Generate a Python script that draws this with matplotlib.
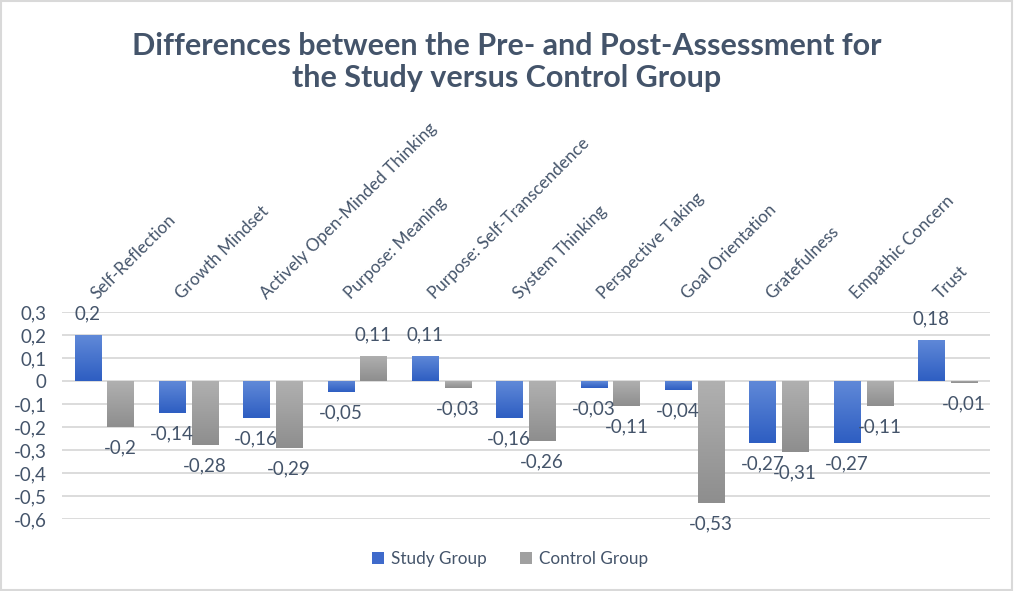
import numpy as np
import matplotlib
matplotlib.use("Agg")
import matplotlib.pyplot as plt
from matplotlib.colors import LinearSegmentedColormap
from matplotlib.patches import Rectangle

categories = ["Self-Reflection", "Growth Mindset", "Actively Open-Minded Thinking",
              "Purpose: Meaning", "Purpose: Self-Transcendence", "System Thinking",
              "Perspective Taking", "Goal Orientation", "Gratefulness",
              "Empathic Concern", "Trust"]
study = [0.2, -0.14, -0.16, -0.05, 0.11, -0.16, -0.03, -0.04, -0.27, -0.27, 0.18]
control = [-0.2, -0.28, -0.29, 0.11, -0.03, -0.26, -0.11, -0.53, -0.31, -0.11, -0.01]
yticks = [0.3, 0.2, 0.1, 0, -0.1, -0.2, -0.3, -0.4, -0.5, -0.6]

plt.rcParams['font.family'] = ['Lato', 'DejaVu Sans']
txt = '#44546A'
grid = '#D9D9D9'

blue_cm = LinearSegmentedColormap.from_list('b', ['#6089D8', '#2E5EC2'])
gray_cm = LinearSegmentedColormap.from_list('g', ['#B0B0B0', '#8E8E8E'])


def comma(v):
    return str(v).replace('.', ',')


def gradient_bars(ax, x, vals, width, cmap):
    bars = ax.bar(x, vals, width, color='none', edgecolor='none', zorder=3)
    grad = np.linspace(0, 1, 64).reshape(-1, 1)
    for b in bars:
        x0, y0 = b.get_x(), b.get_y()
        w, h = b.get_width(), b.get_height()
        lo, hi = min(y0, y0 + h), max(y0, y0 + h)
        im = ax.imshow(grad, cmap=cmap, aspect='auto', origin='upper',
                       extent=(x0, x0 + w, lo, hi), zorder=3)
        im.set_clip_path(b)
    return bars


fig = plt.figure(figsize=(10.14, 5.91), dpi=100)
ax = fig.add_axes([0.061, 0.122, 0.915, 0.350])

x = np.arange(len(categories))
w = 0.31
off = 0.195
gradient_bars(ax, x - off, study, w, blue_cm)
gradient_bars(ax, x + off, control, w, gray_cm)

for xs, vals in ((x - off, study), (x + off, control)):
    for xi, v in zip(xs, vals):
        ax.annotate(comma(v), (xi, v), xytext=(0, 15 if v > 0 else -15),
                    textcoords='offset points', ha='center', va='center',
                    fontsize=13.5, color=txt, zorder=5)

ax.set_xlim(-0.5, len(categories) - 0.5)
ax.set_ylim(-0.6, 0.3)
ax.set_yticks(yticks)
ax.set_yticklabels([comma(t) for t in yticks], fontsize=13.5, color=txt)
ax.set_xticks([])
ax.tick_params(axis='y', length=0, pad=11)
ax.grid(axis='y', color=grid, linewidth=1.3, zorder=0)
for s in ax.spines.values():
    s.set_visible(False)

for xi, name in zip(x, categories):
    t = ax.text(xi - 0.05, 0.345, name, rotation=45, rotation_mode='anchor',
                ha='left', va='bottom', fontsize=12.3, color=txt)
    t.set_clip_on(False)

fig.text(0.5, 0.895, "Differences between the Pre- and Post-Assessment for\nthe Study versus Control Group",
         ha='center', va='center', fontsize=22, fontweight='bold', color=txt,
         linespacing=1.2)

h1 = Rectangle((0, 0), 1, 1, facecolor='#3F6ACB')
h2 = Rectangle((0, 0), 1, 1, facecolor='#A0A0A0')
fig.legend([h1, h2], ['Study Group', 'Control Group'], loc='center',
           bbox_to_anchor=(0.503, 0.054), ncol=2, frameon=False, fontsize=12.3,
           labelcolor=txt, handlelength=0.7, handleheight=0.7,
           handletextpad=0.4, columnspacing=2.0)

fig.patches.append(Rectangle((0.001, 0.002), 0.997, 0.996, transform=fig.transFigure,
                             fill=False, edgecolor=grid, linewidth=1.5))

fig.savefig('out.png', dpi=100)
